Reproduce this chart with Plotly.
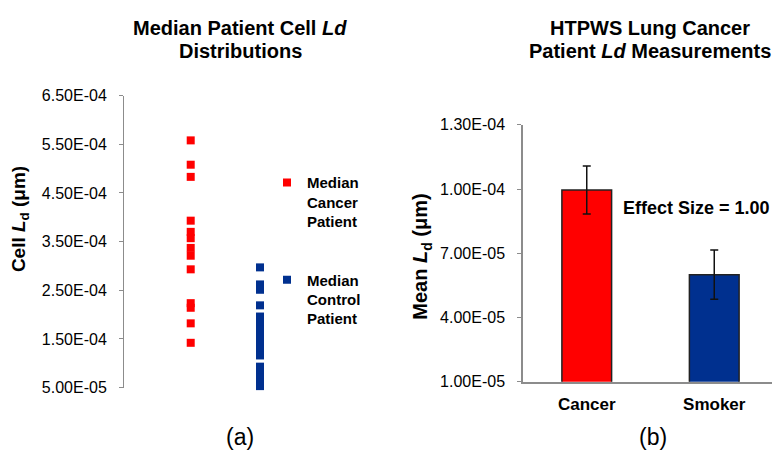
import plotly.graph_objects as go

W, H = 780, 455

# ---------------- data ----------------
dist_groups = ["Cancer", "Control"]
cancer_medians = [5.58e-4, 5.08e-4, 4.83e-4, 3.93e-4, 3.70e-4, 3.57e-4, 3.37e-4,
                  3.21e-4, 2.93e-4, 2.235e-4, 2.14e-4, 1.82e-4, 1.42e-4]
control_medians = [2.97e-4, 2.62e-4, 2.51e-4, 2.19e-4, 1.96e-4, 1.84e-4, 1.70e-4,
                   1.56e-4, 1.42e-4, 1.28e-4, 1.16e-4, 0.93e-4, 0.82e-4, 0.70e-4,
                   0.60e-4, 0.53e-4]
left_tickvals = [5.0e-5, 1.5e-4, 2.5e-4, 3.5e-4, 4.5e-4, 5.5e-4, 6.5e-4]
left_ticktext = ["5.00E-05", "1.50E-04", "2.50E-04", "3.50E-04", "4.50E-04",
                 "5.50E-04", "6.50E-04"]

bar_cats = ["Cancer", "Smoker"]
bar_means = [9.95e-5, 6.0e-5]
bar_errs = [1.12e-5, 1.15e-5]
right_tickvals = [1.0e-5, 4.0e-5, 7.0e-5, 1.0e-4, 1.3e-4]
right_ticktext = ["1.00E-05", "4.00E-05", "7.00E-05", "1.00E-04", "1.30E-04"]

RED = "#FF0000"
BLUE = "#00308F"
FONT = "Arial, 'Liberation Sans', sans-serif"
AX = "#8c8c8c"


def px(x):
    return x / W


def py(y):
    return 1 - y / H


fig = go.Figure()

fig.add_trace(go.Scatter(
    x=[dist_groups[0]] * len(cancer_medians), y=cancer_medians, mode="markers",
    marker=dict(symbol="square", size=8, color=RED),
    name="Median<br>Cancer<br>Patient", legend="legend", cliponaxis=False,
    xaxis="x", yaxis="y"))
fig.add_trace(go.Scatter(
    x=[dist_groups[1]] * len(control_medians), y=control_medians, mode="markers",
    marker=dict(symbol="square", size=8, color=BLUE),
    name="Median<br>Control<br>Patient", legend="legend2", cliponaxis=False,
    xaxis="x", yaxis="y"))

fig.add_trace(go.Bar(
    x=bar_cats, y=bar_means, width=0.39,
    marker=dict(color=[RED, BLUE], line=dict(color="#222222", width=1.5)),
    error_y=dict(type="data", array=bar_errs, color="#111111", thickness=1.5, width=4),
    showlegend=False, xaxis="x2", yaxis="y2"))

tickfont = dict(family=FONT, size=16, color="#000000")
legfont = dict(family=FONT, size=15, color="#000000", weight="bold")

fig.update_layout(
    width=W, height=H, margin=dict(l=0, r=0, t=0, b=0),
    paper_bgcolor="white", plot_bgcolor="white",
    font=dict(family=FONT, color="#000000"),
    xaxis=dict(domain=[px(116), px(290)], range=[-0.9625, 1.548], visible=False,
               categoryorder="array", categoryarray=dist_groups),
    yaxis=dict(domain=[py(386), py(82.7)], range=[5.0e-5, 6.5e-4],
               tickvals=left_tickvals, ticktext=left_ticktext, ticks="outside",
               ticklen=4, tickcolor=AX, showline=True, linecolor=AX, linewidth=1,
               showgrid=False, zeroline=False, tickfont=tickfont, anchor="x",
               ticklabelstandoff=9),
    xaxis2=dict(domain=[px(515), px(770)], range=[-0.5, 1.5], anchor="y2",
                showline=True, linecolor=AX, linewidth=1.5, ticks="",
                showgrid=False, zeroline=False, ticklabelstandoff=6,
                tickfont=dict(family=FONT, size=17, color="#000000", weight="bold")),
    yaxis2=dict(domain=[py(380), py(113)], range=[1.0e-5, 1.3e-4], anchor="x2",
                tickvals=right_tickvals, ticktext=right_ticktext, ticks="outside",
                ticklen=4, tickcolor=AX, showline=True, linecolor=AX, linewidth=1.5,
                showgrid=False, zeroline=False, tickfont=tickfont,
                ticklabelstandoff=9),
    legend=dict(x=px(259), y=py(156), xanchor="left", yanchor="top", valign="top",
                bgcolor="rgba(0,0,0,0)", borderwidth=0, font=legfont),
    legend2=dict(x=px(259), y=py(257), xanchor="left", yanchor="top", valign="top",
                 bgcolor="rgba(0,0,0,0)", borderwidth=0, font=legfont),
)

ann = []
def add(text, x, y, size, bold=True, angle=0):
    ann.append(dict(text=text, x=px(x), y=py(y), xref="paper", yref="paper",
                    xanchor="center", yanchor="middle", showarrow=False,
                    textangle=angle,
                    font=dict(family=FONT, size=size, color="#000000",
                              weight="bold" if bold else "normal")))

add("Median Patient Cell <i>Ld</i>", 232, 12, 20)
add("Distributions", 232, 36, 20)
add("HTPWS Lung Cancer", 642, 12, 20)
add("Patient <i>Ld</i> Measurements", 642, 36, 20)
add("Cell <i>L</i><sub>d</sub> (μm)", 12, 211, 19, angle=-90)
add("Mean <i>L</i><sub>d</sub> (μm)", 414, 250, 20, angle=-90)
add("Effect Size = 1.00", 688, 199, 18)
add("(a)", 232, 437, 23, bold=False)
add("(b)", 645, 437, 23, bold=False)
fig.update_layout(annotations=ann)

fig.write_html("out.html")
